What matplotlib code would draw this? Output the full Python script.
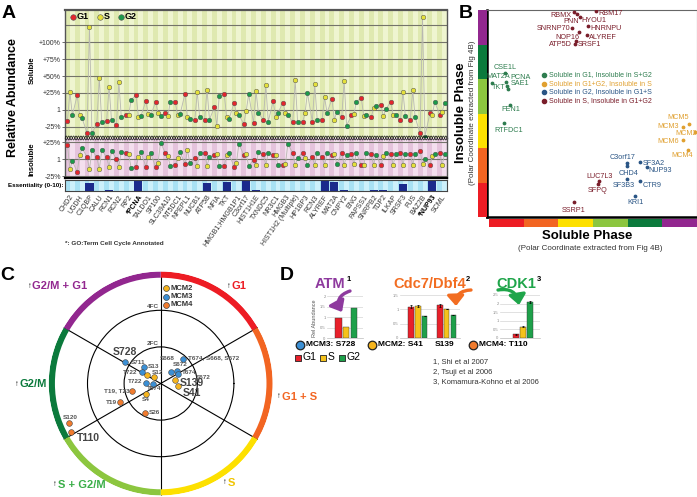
import numpy as np
import matplotlib
matplotlib.use("Agg")
import matplotlib.pyplot as plt

plt.rcParams["font.family"] = ["Liberation Sans", "DejaVu Sans"]

W, H = 697, 497

# ---------------- A: relative abundance per gene ----------------
genes = ["CHD2", "UGDH", "C1QBP", "CALU", "RCN1", "RCN2", "RP2", "*PCNA", "TALDO1",
         "SP100", "SLC39A10", "NT5DC1", "NPEPL1", "NUCB1", "ATP5B", "NFIA", "TKT",
         "HMGB1;HMGB1P1", "C3orf17", "HIST1H1E", "TXNDC5", "NR3C1", "HMGB3",
         "HIST1H2 (Multiple)", "HP1BP3", "RCN3", "ALYREF", "MAT2A", "CNPY2", "ENG",
         "PAPSS1", "SNRPB2", "TDP2", "ILKAP", "SRSF3", "FUS", "BAZ2B", "*NUP93", "SCML"]

sol_g1 = [-16, 22, -34, -20, -16, -22, -8, 22, 13, 12, -5, 12, 24, -15, -14, 4, 24, 10, -20,
          -19, -14, 13, 11, -18, -18, -17, -14, 16, -11, -8, 18, -11, 7, 12, -15, -15, -34, -5, -7]
sol_s = [27, -8, 122, 47, 34, 41, -8, -10, -6, -5, -9, -8, -10, 26, 30, -23, -10, -4, -1.5,
         28, 37, -10, -5, 44, -5, 38, 19, -14, 43, -6, -9, 2.4, -9, -7, 27, 29, 137, -7, -2.5]
sol_g2 = [-8, -12, -34, -17, -15, -11, 15, -9, -8, -9, 12, -6, -13, -10, -14, 21, -13, -8, 23,
          -5, -17, -4, -7, -18, 25, -15, -4, -2.5, -23, 12, -8, 6, 1, -7, -9, -11, -39, 12, 10]

ins_g1 = [21, -19, 3, 3, 3, 0, 9, -11, -11, -12, 9, -9, -7, 2, 9, 6, -10, -12, 6, -1,
          7, 6, -9, 9, 9, 3, 3, 6, 9, 7, -9, 8, -9, 8, 9, 8, 12, -9, 9]
ins_s = [-15, 6, -15, -15, -12, -11, 7, 3, 3, -6, 4, 1, 13, -10, -10, 7, 6, -6, 7, -9,
         -9, 6, -8, -9, 1, -9, -9, 7, -9, -8, -9, -9, 4, -9, -9, -9, -7, 5, -9]
ins_g2 = [-3, 16, 13, 13, 12, 11, -13, 10, 9, 24, -10, 10, -6, 9, 3, -10, 9, 22, -10, 10,
          9, -9, 22, 2, -9, 9, 9, -7, 6, 9, 9, 6, 9, 7, 8, 8, 0, 8, 7]

essentiality = [0, 0, 7, 0, 0.5, 0, 0, 10, 0, 0, 0, 0, 0, 0, 7, 0, 8, 0, 10, 0.5,
                0, 0, 0, 0, 0, 0, 10, 8, 0.5, 0, 0, 0.5, 0.5, 0, 6, 0, 0, 10, 0]

# ---------------- B: soluble vs insoluble phase ----------------
b_g1_names = ["CSE1L", "MAT2A", "PCNA", "SAE1", "TKT", "FEN1", "RTFDC1"]
b_g1_x = [0.46, 0.10, 0.48, 0.52, 0.56, 0.61, 0.43]
b_g1_y = [4.17, 3.88, 3.92, 3.81, 3.70, 3.25, 2.73]

b_g1g2_names = ["MCM5", "MCM3", "MCM2", "MCM6", "MCM4"]
b_g1g2_x = [5.76, 5.59, 5.94, 5.59, 5.73]
b_g1g2_y = [2.70, 2.61, 2.46, 2.23, 1.94]

b_g2_names = ["C3orf17", "CHD4", "SF3A2", "NUP93", "SF3B3", "CTR9", "KRI1"]
b_g2_x = [3.97, 3.97, 4.35, 4.54, 3.97, 4.35, 4.20]
b_g2_y = [1.57, 1.49, 1.60, 1.45, 1.10, 1.05, 0.61]

b_s_names = ["RBMX", "PNN", "HYOU1", "RBM17", "SNRNP70", "HNRNPU", "NOP16", "ALYREF",
             "ATP5D", "SRSF1", "LUC7L3", "SFPQ", "SSRP1"]
b_s_x = [2.45, 2.54, 2.62, 3.08, 2.39, 2.85, 2.59, 2.82, 2.47, 2.52, 3.17, 3.14, 2.46]
b_s_y = [5.94, 5.88, 5.80, 5.97, 5.48, 5.54, 5.36, 5.28, 5.01, 5.10, 1.04, 0.96, 0.43]

# ---------------- C: phosphosites (angle deg, fold change) ----------------
mcm3_theta = [149.0, 134.7, 148.4, 179.3, 185.0, 47.8, 47.7, 38.0, 28.3]
mcm3_r = [2.27, 1.29, 1.22, 0.80, 0.44, 0.86, 1.78, 1.10, 1.06]
mcm2_theta = [149.7, 137.4, 214.8, 12.0, 351.7]
mcm2_r = [0.89, 0.50, 1.00, 0.82, 0.97]
mcm4_theta = [195.3, 204.9, 242.3, 203.3, 208.6]
mcm4_r = [1.63, 2.45, 1.81, 5.48, 5.57]

# ---------------- D: kinase site abundances (G1, S, G2) ----------------
atm_s728 = [0.95, 0.55, 1.43]
cdc7_s41 = [1.09, 1.12, 0.77]
cdc7_s41_err = [0.05, 0.05, 0.0]
cdc7_s139 = [1.15, 1.03, 0.80]
cdc7_s139_err = [0.05, 0.0, 0.0]
cdk1_t110 = [0.20, 0.64, 2.10]
cdk1_t110_err = [0.02, 0.04, 0.05]

C_G1, C_S, C_G2 = "#e3262d", "#e4e03a", "#1c9a4a"
PHASE = ["#ed1c24", "#f26522", "#fde000", "#8cc63f", "#0b7a3c", "#92278f"]

fig = plt.figure(figsize=(W / 100, H / 100), dpi=100)


def px_axes(x0, y0, x1, y1, **kw):
    return fig.add_axes([x0 / W, 1 - y1 / H, (x1 - x0) / W, (y1 - y0) / H], **kw)


# =============== Panel A ===============
n = len(genes)
cols = np.arange(n)
xs = np.column_stack([cols + 0.25, cols + 0.5, cols + 0.75]).ravel()


def stripes(ax, light, dark):
    ax.set_facecolor(light)
    for k in cols:
        ax.axvspan(k, k + 0.5, color=dark, lw=0, zorder=0)


def dots(ax, g1, s, g2):
    ax.plot(xs, np.column_stack([g1, s, g2]).ravel(), color="#b8b8b0", lw=0.6, zorder=2)
    for off, vals, c in [(0.25, g1, C_G1), (0.5, s, C_S), (0.75, g2, C_G2)]:
        ax.scatter(cols + off, vals, s=11, c=c, edgecolors="#555555", linewidths=0.35, zorder=3)


ax_sol = px_axes(65, 10, 447, 138)
ax_sol.set_xlim(0, n)
ax_sol.set_ylim(-41.2, 147.1)
stripes(ax_sol, "#eff5d0", "#dfe9b0")
for v in [125, 100, 75, 50, 25, 0, -25]:
    ax_sol.axhline(v, color="#74746a", lw=0.8, zorder=1)
dots(ax_sol, sol_g1, sol_s, sol_g2)
ax_sol.set_yticks([100, 75, 50, 25, 0, -25])
ax_sol.set_yticklabels(["+100%", "+75%", "+50%", "+25%", "1", "-25%"])
ax_sol.set_xticks([])
ax_sol.tick_params(axis="y", labelsize=5, length=2, width=0.5, pad=1, colors="#333333")
for side, sp in ax_sol.spines.items():
    sp.set_color("#555555")
    sp.set_linewidth(1.6 if side == "top" else 1.0)
ax_sol.spines["bottom"].set_visible(False)

ax_ins = px_axes(65, 138, 447, 178)
ax_ins.set_xlim(0, n)
ax_ins.set_ylim(-27.9, 30.9)
stripes(ax_ins, "#f4dfee", "#e5c4dc")
for v in [25, 0, -25]:
    ax_ins.axhline(v, color="#74746a", lw=0.8, zorder=1)
dots(ax_ins, ins_g1, ins_s, ins_g2)
ax_ins.set_yticks([25, 0, -25])
ax_ins.set_yticklabels(["+25%", "1", "-25%"])
ax_ins.set_xticks([])
ax_ins.tick_params(axis="y", labelsize=5, length=2, width=0.5, pad=1, colors="#333333")
for side, sp in ax_ins.spines.items():
    sp.set_color("#555555" if side != "bottom" else "black")
    sp.set_linewidth(1.6 if side == "bottom" else 1.0)
ax_ins.spines["top"].set_visible(False)

# wavy break between the two halves
ax_w = px_axes(65, 135, 447, 141)
ax_w.set_xlim(0, n)
ax_w.set_ylim(-1.5, 1.5)
ax_w.axis("off")
t = np.linspace(0, n, 4000)
ax_w.plot(t, np.sin(4 * np.pi * t), color="#111111", lw=0.5)
ax_w.plot(t, -np.sin(4 * np.pi * t), color="#111111", lw=0.5)

ax_ess = px_axes(65, 179.5, 447, 191)
ax_ess.set_xlim(0, n)
ax_ess.set_ylim(0, 10)
stripes(ax_ess, "#cdf0fb", "#a9e1f4")
ax_ess.bar(cols + 0.5, essentiality, width=0.82, color="#1b2a8c", zorder=2)
ax_ess.set_yticks([])
ax_ess.set_xticks(cols + 0.5)
ax_ess.set_xticklabels(genes, rotation=55, ha="right", va="top", rotation_mode="anchor",
                       fontsize=5, color="#333333")
for lab in ax_ess.get_xticklabels():
    if lab.get_text().startswith("*"):
        lab.set_fontweight("bold")
        lab.set_color("black")
ax_ess.tick_params(axis="x", length=0, pad=2)
for sp in ax_ess.spines.values():
    sp.set_color("#444444")
    sp.set_linewidth(0.8)

# =============== Panel B ===============
ax_b = px_axes(487, 10, 697, 217)
ax_b.set_xlim(-0.058, 5.994)
ax_b.set_ylim(0, 6)
ax_b.set_xticks([])
ax_b.set_yticks([])
for side in ["left", "bottom"]:
    ax_b.spines[side].set_linewidth(1.8)
for side in ["top", "right"]:
    ax_b.spines[side].set_linewidth(0.8)
    ax_b.spines[side].set_color("#666666")

B_COL = {"g1": "#2e7d4f", "g1g2": "#e0a030", "g2": "#2a5585", "s": "#7a1e2b"}
label_off = {
    "RBMX": (-13.5, 3), "PNN": (-5.5, 7), "HYOU1": (13.5, 3.5), "RBM17": (14.5, 2.5),
    "SNRNP70": (-18.5, 0.5), "HNRNPU": (18, 3), "NOP16": (-11, 5), "ALYREF": (15.8, 2.3),
    "ATP5D": (-14.7, 0), "SRSF1": (13, 3), "LUC7L3": (0.5, -5), "SFPQ": (0, 7),
    "SSRP1": (-1, 8), "CSE1L": (0.5, -5.3), "MAT2A": (5.7, -6.3), "PCNA": (14.8, -4.5),
    "SAE1": (13, -2), "TKT": (-9.3, -2.3), "FEN1": (1, 5), "RTFDC1": (4.5, 7.3),
    "MCM5": (-11, -6), "MCM3": (-15, 0), "MCM2": (-9, 1), "MCM6": (-15, 1),
    "MCM4": (-5.5, 5), "C3orf17": (-4.2, -5.7), "CHD4": (1.3, 7.5), "SF3A2": (14, 1.3),
    "NUP93": (13.3, 4), "SF3B3": (-3.2, 6), "CTR9": (12.5, 4.3), "KRI1": (0.3, 7),
}
for key, names, bx, by in [("g1", b_g1_names, b_g1_x, b_g1_y),
                           ("g1g2", b_g1g2_names, b_g1g2_x, b_g1g2_y),
                           ("g2", b_g2_names, b_g2_x, b_g2_y),
                           ("s", b_s_names, b_s_x, b_s_y)]:
    c = B_COL[key]
    ax_b.scatter(bx, by, s=3, color=c, zorder=3)
    for name, x, y in zip(names, bx, by):
        dx, dy = label_off[name]
        ax_b.annotate(name, (x, y), xytext=(dx * 0.72, -dy * 0.72), textcoords="offset points",
                      ha="center", va="center", fontsize=5.2, color=c)

ax_bl = px_axes(478, 10, 487, 217)
ax_bl.set_ylim(0, 6)
ax_bl.axis("off")
ax_bb = px_axes(489, 219, 697, 227)
ax_bb.set_xlim(0, 6)
ax_bb.axis("off")
for i, c in enumerate(PHASE):
    ax_bl.axhspan(i, i + 1, color=c, lw=0)
    ax_bb.axvspan(i, i + 1, color=c, lw=0)

# =============== Panel C ===============
ax_c = fig.add_axes([48.7 / W, 1 - 495.5 / H, 224 / W, 224 / H], projection="polar")
ax_c.set_ylim(0, 6.12)
ax_c.set_rgrids([2, 4], labels=["", ""])
ax_c.set_thetagrids([30, 90, 150, 210, 270, 330], labels=[""] * 6)
ax_c.grid(True, color="black", lw=0.8)
ax_c.set_axisbelow(True)
ax_c.spines["polar"].set_visible(False)
ax_c.patch.set_alpha(0)
ring_centres = np.deg2rad([60, 0, -60, -120, 180, 120])
ax_c.bar(ring_centres, 0.34, width=np.deg2rad(60), bottom=5.78, color=PHASE, lw=0, zorder=2)
C_MCM2, C_MCM3, C_MCM4 = "#f6b51e", "#3b8fd4", "#f07b2e"
for th, r, c in [(mcm3_theta, mcm3_r, C_MCM3), (mcm2_theta, mcm2_r, C_MCM2),
                 (mcm4_theta, mcm4_r, C_MCM4)]:
    ax_c.scatter(np.deg2rad(th), r, s=17, color=c, edgecolors="#444444", linewidths=0.4, zorder=4)

# =============== Panel D ===============
BARC = ["#e8202a", "#f5c21b", "#1ea04a"]


def mini(ax, ymax, ticks):
    ax.set_ylim(0, ymax)
    ax.set_yticks(ticks)
    ax.set_yticklabels([("%g" % v) for v in ticks])
    ax.tick_params(axis="y", labelsize=3, length=0, pad=1, colors="#888888")
    ax.set_xticks([])
    ax.grid(axis="y", color="#d5d5d5", lw=0.5)
    ax.set_axisbelow(True)
    for side in ["top", "right", "left"]:
        ax.spines[side].set_visible(False)
    ax.spines["bottom"].set_color("#bbbbbb")
    ax.spines["bottom"].set_linewidth(0.5)


err_kw = dict(lw=0.5, capsize=1, capthick=0.5)
ax_atm = px_axes(327, 296, 363, 338.3)
mini(ax_atm, 2, [0, 0.5, 1, 1.5, 2])
ax_atm.bar([0, 1, 2], atm_s728, width=0.82, color=BARC, edgecolor="#333333", lw=0.3)
ax_atm.set_xlim(-1.49, 3.22)

ax_cdc = px_axes(400, 295.3, 460, 337.7)
mini(ax_cdc, 1.5, [0, 0.5, 1, 1.5])
ax_cdc.bar([0, 1, 2], cdc7_s41, width=0.82, color=BARC, edgecolor="#333333", lw=0.3,
           yerr=cdc7_s41_err, error_kw=err_kw)
ax_cdc.bar([4.3, 5.3, 6.3], cdc7_s139, width=0.82, color=BARC, edgecolor="#333333", lw=0.3,
           yerr=cdc7_s139_err, error_kw=err_kw)
ax_cdc.set_xlim(-1.67, 7.3)

ax_cdk = px_axes(500, 295, 540, 337.7)
mini(ax_cdk, 2.5, [0, 0.5, 1, 1.5, 2, 2.5])
ax_cdk.bar([0, 1, 2], cdk1_t110, width=0.82, color=BARC, edgecolor="#333333", lw=0.3,
           yerr=cdk1_t110_err, error_kw=err_kw)
ax_cdk.set_xlim(-2.35, 3.45)

# =============== overlay for text ===============
ov = fig.add_axes([0, 0, 1, 1], zorder=10)
ov.set_xlim(0, W)
ov.set_ylim(H, 0)
ov.axis("off")

for s, x, y in [("A", 8.5, 13.5), ("B", 466, 14), ("C", 7, 276), ("D", 287, 276)]:
    ov.text(x, y, s, fontsize=14, fontweight="bold", ha="center", va="center")

# A labels
ov.text(13, 98, "Relative Abundance", rotation=90, fontsize=9, fontweight="bold",
        ha="center", va="center")
ov.text(32, 70, "Soluble", rotation=90, fontsize=5.5, fontweight="bold", ha="center", va="center")
ov.text(32, 159, "Insoluble", rotation=90, fontsize=5.5, fontweight="bold", ha="center", va="center")
ov.text(63, 185.5, "Essentiality (0-10):", fontsize=4.5, fontweight="bold", ha="right", va="center")
ov.text(65, 243, "*: GO:Term Cell Cycle Annotated", fontsize=4.6, fontweight="bold",
        ha="left", va="center", color="#333333")
for x, c, lab in [(72.7, C_G1, "G1"), (100, C_S, "S"), (120.7, C_G2, "G2")]:
    ov.scatter([x], [16.7], s=16, color=c, edgecolors="#555555", linewidths=0.4)
    ov.text(x + 4, 16.9, lab, fontsize=6.5, fontweight="bold", ha="left", va="center")

# B labels
ov.text(461, 113, "Insoluble Phase", rotation=90, fontsize=9.5, fontweight="bold",
        ha="center", va="center")
ov.text(473, 113, "(Polar Coordinate extracted from Fig 4B)", rotation=90, fontsize=5.8,
        ha="center", va="center", color="#333333")
ov.text(587, 236, "Soluble Phase", fontsize=9.5, fontweight="bold", ha="center", va="center")
ov.text(590, 249, "(Polar Coordinate extracted from Fig 4B)", fontsize=5.8,
        ha="center", va="center", color="#333333")
for y, key, lab in [(75, "g1", "Soluble in G1, Insoluble in S+G2"),
                    (83.5, "g1g2", "Soluble in G1+G2, Insoluble in S"),
                    (92, "g2", "Soluble in G2, Insoluble in G1+S"),
                    (100.5, "s", "Soluble in S, Insoluble in G1+G2")]:
    ov.scatter([544], [y], s=9, color=B_COL[key])
    ov.text(549, y, lab, fontsize=5, color=B_COL[key], ha="left", va="center")

# C labels
for x, y, c, lab in [(229, 286, PHASE[0], "G1"), (30, 286, PHASE[5], "G2/M + G1"),
                     (17, 384, PHASE[4], "G2/M"), (279, 397, PHASE[1], "G1 + S"),
                     (225, 483, "#f0c400", "S"), (55, 485, "#3aae48", "S + G2/M")]:
    ov.text(x, y, "\u2191", fontsize=5.5, ha="center", va="center", color="black")
    ov.text(x + 2.5, y, lab, fontsize=8, fontweight="bold", color=c, ha="left", va="center")

for y, c, lab in [(288, C_MCM2, "MCM2"), (296.5, C_MCM3, "MCM3"), (305, C_MCM4, "MCM4")]:
    ov.scatter([165.7], [y], s=18, color=c, edgecolors="#444444", linewidths=0.5)
    ov.text(170.5, y, lab, fontsize=5.5, fontweight="bold", color="#333333", ha="left", va="center")

big = dict(fontsize=7.5, fontweight="bold", color="#444444", va="center")
small = dict(fontsize=4.6, fontweight="bold", color="#555555", va="center")
for lab, x, y, st, ha in [
        ("S728", 113, 352, big, "left"), ("S711", 131, 362, small, "left"),
        ("S13", 148, 366, small, "left"), ("T722", 123, 373, small, "left"),
        ("S12", 152, 372, small, "left"), ("T722", 128, 381.7, small, "left"),
        ("T674", 147, 389, small, "left"), ("S4", 142, 399.3, small, "left"),
        ("S668", 160, 359, small, "left"), ("T674, S668, S672", 188, 358, small, "left"),
        ("S672", 173, 365, small, "left"), ("T674", 182, 372.2, small, "left"),
        ("S672", 196, 377.5, small, "left"), ("S139", 180, 383.5, big, "left"),
        ("S41", 183, 393.5, big, "left"), ("T19, T23", 129.3, 390.7, small, "right"),
        ("T19", 117, 402, small, "right"), ("S26", 149, 412.7, small, "left"),
        ("S120", 63, 417.3, small, "left"), ("T110", 77, 438.3, big, "left"),
        ("4FC", 159, 306, small, "right"), ("2FC", 159, 343.5, small, "right")]:
    ov.text(x, y, lab, ha=ha, **st)

# D labels: kinase names with reference superscripts
titles = []
for x, lab, c in [(315, "ATM", "#8e3a9e"), (393, "Cdc7/Dbf4", "#f26d21"), (496, "CDK1", "#1fa54a")]:
    titles.append(ov.text(x, 284, lab, fontsize=10.5, fontweight="bold", color=c,
                          ha="left", va="center"))
fig.canvas.draw()
inv = ov.transData.inverted()
for tt, sup in zip(titles, ["1", "2", "3"]):
    bb = tt.get_window_extent()
    x_end, y_top = inv.transform((bb.x1, bb.y1))
    ov.text(x_end + 0.5, y_top + 2.5, sup, fontsize=5.5, fontweight="bold", ha="left", va="center")
ov.text(314, 318, "Rel Abundance", rotation=90, fontsize=4, color="#555555", ha="center", va="center")

for (x0, y0), (x1, y1), c, rad in [((350, 291), (342, 312), "#8e3a9e", 0.6),
                                   ((471, 290), (456, 306), "#f26d21", 0.5),
                                   ((498, 290), (519, 305), "#1fa54a", -0.5)]:
    ov.annotate("", xy=(x1, y1), xytext=(x0, y0),
                arrowprops=dict(arrowstyle="-|>,head_width=0.5,head_length=0.6",
                                connectionstyle="arc3,rad=%g" % rad, lw=2.4, color=c,
                                mutation_scale=10, shrinkA=0, shrinkB=0))

for x, c, lab in [(300, C_MCM3, "MCM3: S728"), (371.7, C_MCM2, "MCM2: S41"),
                  (472.7, C_MCM4, "MCM4: T110")]:
    ov.scatter([x], [345], s=38, color=c, edgecolors="#222222", linewidths=0.9)
    ov.text(x + 6.5, 345, lab, fontsize=6, fontweight="bold", ha="left", va="center")
ov.text(445, 345, "S139", fontsize=6, fontweight="bold", ha="center", va="center")

for x, c, lab in [(297.7, BARC[0], "G1"), (322.7, BARC[1], "S"), (341.7, BARC[2], "G2")]:
    ov.scatter([x], [357.5], s=22, marker="s", color=c, edgecolors="#222222", linewidths=0.6)
    ov.text(x + 5, 357.5, lab, fontsize=7.5, ha="left", va="center")

for y, lab in [(362, "1, Shi et al 2007"), (372, "2, Tsuji et al 2006"),
               (382, "3, Komamura-Kohno et al 2006")]:
    ov.text(433, y, lab, fontsize=5.5, color="#333333", ha="left", va="center")

fig.savefig("out.png", dpi=100)
